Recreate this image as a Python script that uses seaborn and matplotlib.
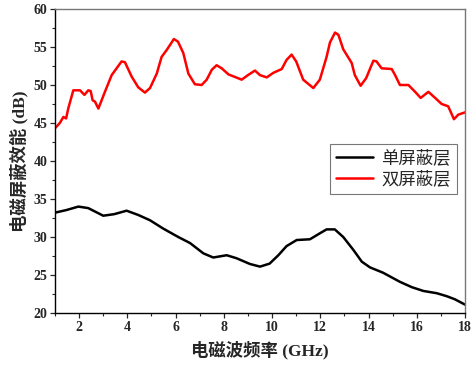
import pandas as pd
import numpy as np
import matplotlib
matplotlib.use("Agg")
import matplotlib.pyplot as plt
from matplotlib.ticker import MultipleLocator
import seaborn as sns

# 双屏蔽层 (red)
freq_double = [1.0, 1.2, 1.35, 1.46, 1.55, 1.76, 2.04, 2.22, 2.38, 2.48, 2.56, 2.66, 2.8,
               3.07, 3.35, 3.76, 3.9, 4.18, 4.45, 4.73, 4.94, 5.22, 5.42, 5.63, 5.93,
               6.1, 6.32, 6.53, 6.8, 7.08, 7.29, 7.5, 7.7, 7.91, 8.19, 8.74, 9.0, 9.29,
               9.5, 9.78, 10.05, 10.4, 10.6, 10.81, 11.0, 11.29, 11.71, 11.98, 12.26,
               12.4, 12.61, 12.75, 12.95, 13.3, 13.43, 13.67, 13.9, 14.2, 14.33, 14.54,
               14.96, 15.1, 15.3, 15.65, 15.93, 16.16, 16.48, 16.76, 17.03, 17.3, 17.54,
               17.72, 18.0]
se_double = [44.3, 45.0, 45.8, 45.6, 46.9, 49.3, 49.3, 48.7, 49.3, 49.2, 48.0, 47.8, 46.9,
             49.1, 51.3, 53.1, 53.0, 51.1, 49.7, 49.0, 49.6, 51.5, 53.7, 54.6, 56.05,
             55.7, 54.2, 51.5, 50.1, 50.0, 50.7, 52.0, 52.6, 52.2, 51.4, 50.7, 51.3, 51.9,
             51.3, 51.0, 51.6, 52.1, 53.3, 54.0, 53.1, 50.7, 49.6, 50.7, 53.7,
             55.6, 56.9, 56.6, 54.7, 52.9, 51.3, 49.9, 50.9, 53.2, 53.1, 52.2,
             52.1, 51.3, 50.0, 50.0, 49.1, 48.3, 49.1, 48.3, 47.5, 47.2, 45.5,
             46.1, 46.4]

# 单屏蔽层 (black)
freq_single = [1.0, 1.48, 1.97, 2.38, 3.0, 3.45, 3.97, 4.45, 4.94, 5.49, 6.11, 6.6, 7.15,
               7.56, 8.12, 8.53, 9.08, 9.5, 9.9, 10.26, 10.6, 11.02, 11.57, 11.99, 12.26,
               12.6, 12.95, 13.37, 13.72, 14.06, 14.6, 15.3, 15.79, 16.27, 16.83, 17.25,
               17.58, 18.0]
se_single = [33.2, 33.55, 34.0, 33.8, 32.8, 33.0, 33.46, 32.9, 32.2, 31.1, 30.0, 29.2, 27.85,
             27.3, 27.6, 27.2, 26.45, 26.1, 26.5, 27.6, 28.8, 29.6, 29.7, 30.5, 31.0,
             31.0, 30.0, 28.3, 26.75, 26.0, 25.3, 24.1, 23.4, 22.9, 22.6, 22.2,
             21.8, 21.1]

labels = ["单屏蔽层", "双屏蔽层"]
colors = ["black", "#ff0000"]

df = pd.concat([
    pd.DataFrame({"freq": freq_single, "se": se_single, "layer": labels[0]}),
    pd.DataFrame({"freq": freq_double, "se": se_double, "layer": labels[1]}),
])

sns.set_style("ticks")
plt.rcParams["font.family"] = ["Liberation Serif", "Noto Sans CJK SC", "DejaVu Sans"]

fig = plt.figure(figsize=(4.76, 3.69), dpi=100)
ax = fig.add_axes([0.1155, 0.1518, 0.8615, 0.8238])

sns.lineplot(data=df, x="freq", y="se", hue="layer", palette=dict(zip(labels, colors)),
             sort=False, linewidth=1.8, ax=ax)

ax.set_xlim(1, 18)
ax.set_ylim(20, 60)
ax.set_xticks([2, 4, 6, 8, 10, 12, 14, 16, 18])
ax.xaxis.set_minor_locator(MultipleLocator(1))
ax.yaxis.set_major_locator(MultipleLocator(5))
ax.yaxis.set_minor_locator(MultipleLocator(2.5))
ax.tick_params(which="major", direction="out", length=3.5, width=0.9, labelsize=10, pad=2)
ax.tick_params(which="minor", direction="out", length=2, width=0.8)
for lab in ax.get_xticklabels() + ax.get_yticklabels():
    lab.set_fontweight("bold")

for side in ["left", "bottom"]:
    ax.spines[side].set_color("black")
    ax.spines[side].set_linewidth(1.0)
for side in ["top", "right"]:
    ax.spines[side].set_color("#777777")
    ax.spines[side].set_linewidth(1.0)

ax.set_xlabel("电磁波频率 (GHz)", fontsize=12.5, fontweight="bold", labelpad=5)
ax.set_ylabel("电磁屏蔽效能 (dB)", fontsize=12.5, fontweight="bold", labelpad=4)

leg = ax.legend(loc="upper right", bbox_to_anchor=(0.98, 0.556), borderaxespad=0,
                fontsize=12.5, frameon=True, fancybox=False, handlelength=2.1,
                borderpad=0.35, labelspacing=0.25, handletextpad=0.5)
leg.get_frame().set_edgecolor("#555555")
leg.get_frame().set_linewidth(0.8)
leg.set_title(None)

fig.savefig("out.png", dpi=100)
